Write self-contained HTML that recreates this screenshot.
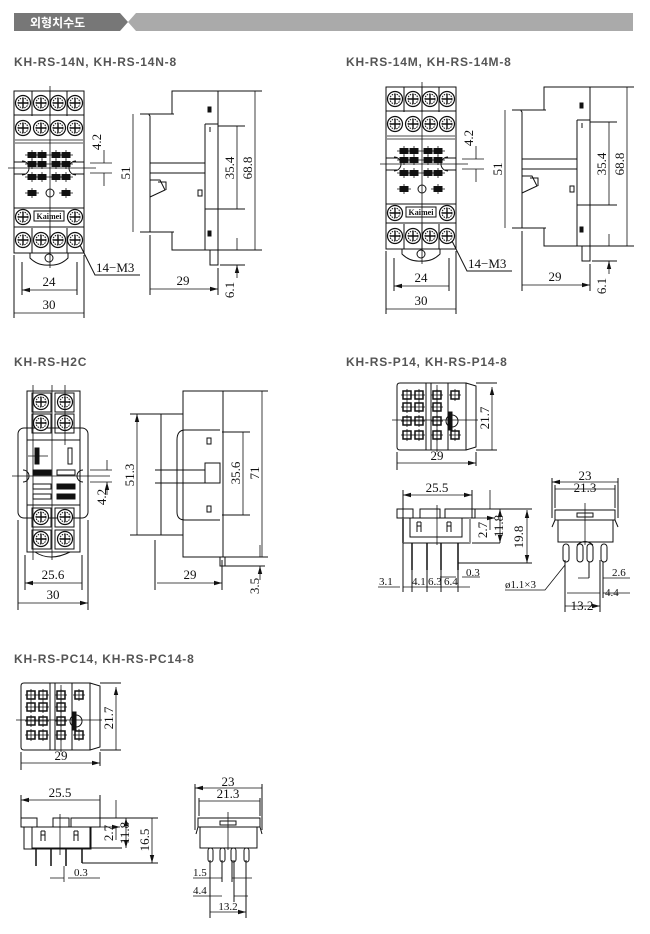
<!DOCTYPE html>
<html><head><meta charset="utf-8"><style>
html,body{margin:0;padding:0;background:#fff;}
svg{display:block;}
.t{font-family:"Liberation Sans","Noto Sans CJK KR",sans-serif;font-weight:bold;font-size:12px;letter-spacing:0.8px;fill:#555;}
.d{font-family:"Liberation Serif",serif;font-size:13px;fill:#111;}
.s{font-family:"Liberation Serif",serif;font-size:11px;fill:#111;}
</style></head><body>
<svg width="650" height="934" viewBox="0 0 650 934" xmlns="http://www.w3.org/2000/svg">
<defs>
<marker id="a" markerWidth="8" markerHeight="6" refX="8" refY="3" orient="auto-start-reverse" markerUnits="userSpaceOnUse"><path d="M0,0.8L8,3L0,5.2z" fill="#111"/></marker>
<g id="sc"><circle r="7.5" fill="#fff" stroke="#111" stroke-width="1.2"/><circle r="5" fill="none" stroke="#111" stroke-width="1" stroke-dasharray="1.5 1"/><path d="M-5,0H5M0,-5V5" stroke="#111" stroke-width="1.4"/></g>
<g id="dt"><rect x="-4" y="-2.5" width="8" height="5" fill="#111"/><path d="M-7,0H7M0,-5V5" stroke="#111" stroke-width="0.8"/></g>
<g id="pin"><rect x="-4" y="-4" width="8" height="8" fill="#fff" stroke="#111" stroke-width="1.5"/><path d="M-6,0H6M0,-6V6" stroke="#111" stroke-width="0.8"/></g>

<g id="fr" fill="none" stroke="#111" stroke-width="1">
<rect x="14" y="91" width="70" height="162"/>
<path d="M14,140H84M14,143H84" stroke="#888" stroke-width="1.5"/>
<path d="M14,115H84M14,208H84M14,227H84"/>
<path d="M32,91V116M50,91V116M67,91V116M32,228V253M50,228V253M67,228V253"/>
<use href="#sc" x="23" y="103"/><use href="#sc" x="41" y="103"/><use href="#sc" x="58" y="103"/><use href="#sc" x="75" y="103"/>
<use href="#sc" x="23" y="128"/><use href="#sc" x="41" y="128"/><use href="#sc" x="58" y="128"/><use href="#sc" x="75" y="128"/>
<use href="#sc" x="23" y="217"/><use href="#sc" x="75" y="217"/>
<use href="#sc" x="23" y="240"/><use href="#sc" x="41" y="240"/><use href="#sc" x="58" y="240"/><use href="#sc" x="75" y="240"/>
<use href="#dt" x="32" y="155"/><use href="#dt" x="42" y="155"/><use href="#dt" x="56" y="155"/><use href="#dt" x="66" y="155"/>
<use href="#dt" x="32" y="164"/><use href="#dt" x="42" y="164"/><use href="#dt" x="56" y="164"/><use href="#dt" x="66" y="164"/>
<use href="#dt" x="32" y="177"/><use href="#dt" x="42" y="177"/><use href="#dt" x="56" y="177"/><use href="#dt" x="66" y="177"/>
<use href="#dt" x="32" y="193"/><use href="#dt" x="66" y="193"/>
<circle cx="50" cy="193" r="4"/>
<path d="M22,161A7,7 0 0 1 22,175M76,161A7,7 0 0 0 76,175M14,162H26M72,162H84M14,174H26M72,174H84"/>
<rect x="34" y="211" width="30" height="10" fill="#fff" stroke="#111"/>
<text x="49" y="219" font-family="Liberation Serif" font-size="8" font-weight="bold" fill="#111" stroke="none" text-anchor="middle">Kaimei</text>
<path d="M30,253V258Q38,266 49,265Q60,266 68,258V253"/>
<circle cx="49" cy="258" r="4"/>
<path d="M50,86V268M8,168H96" stroke-width="0.8"/>
<path d="M22,262V295M77,262V295M14,255V318M84,255V318"/>
<path d="M80,245L95,275H140"/>
</g>
<g id="sd" fill="none" stroke="#111" stroke-width="1">
<path d="M172,91H218V250H172V232H150V116Q148,114 150,114H172Z"/>
<path d="M205,124H218M205,124V250M210,127V132M205,209H218"/>
<rect x="150" y="163" width="55" height="10"/>
<path d="M150,180L160,180L165,190L150,197M158,182H166V190"/>
<rect x="208" y="107" width="3" height="5" fill="#111"/>
<rect x="198" y="190" width="4" height="6"/>
<rect x="208" y="231" width="3" height="5" fill="#111"/>
<rect x="210" y="250" width="8" height="15"/>
<path d="M150,235V295M218,268V295M174,114H140M174,232H140M218,126H245M218,209H245M218,91H262M218,250H262M220,265H245"/>
</g>
</defs>

<path d="M14,13H120L128,22L120,31H14Z" fill="#777"/>
<path d="M136,13H633V31H136L128,22Z" fill="#aaa"/>
<text x="30" y="27" font-family="Liberation Sans,'Noto Sans CJK KR',sans-serif" font-size="12" font-weight="bold" fill="#fff">외형치수도</text>

<text class="t" x="14" y="66">KH-RS-14N, KH-RS-14N-8</text>
<text class="t" x="346" y="66">KH-RS-14M, KH-RS-14M-8</text>
<text class="t" x="14" y="366">KH-RS-H2C</text>
<text class="t" x="346" y="366">KH-RS-P14, KH-RS-P14-8</text>
<text class="t" x="14" y="663">KH-RS-PC14, KH-RS-PC14-8</text>

<use href="#fr"/><use href="#sd"/>
<g id="dim1" stroke="#111" stroke-width="0.8" fill="none">
<path d="M22,290H77M14,313H84M133,114V232M237,126V209M255,91V250M150,289H218" marker-start="url(#a)" marker-end="url(#a)"/>
<path d="M104,150V163M104,186V173M237,238V250M237,278V265" marker-end="url(#a)"/>
<path d="M90,163H112M90,173H112"/>
</g>
<g id="txt1">
<text class="d" x="49" y="286" text-anchor="middle">24</text>
<text class="d" x="49" y="309" text-anchor="middle">30</text>
<text class="d" x="96" y="272">14−M3</text>
<text class="d" x="183" y="285" text-anchor="middle">29</text>
<text class="d" transform="translate(101,142) rotate(-90)" text-anchor="middle">4.2</text>
<text class="d" transform="translate(130,173) rotate(-90)" text-anchor="middle">51</text>
<text class="d" transform="translate(234,168) rotate(-90)" text-anchor="middle">35.4</text>
<text class="d" transform="translate(252,168) rotate(-90)" text-anchor="middle">68.8</text>
<text class="d" transform="translate(234,290) rotate(-90)" text-anchor="middle">6.1</text>
</g>
<g transform="translate(372,-4)"><use href="#fr"/><use href="#sd"/><use href="#dim1"/><use href="#txt1"/></g>

<g fill="none" stroke="#111" stroke-width="1">
<rect x="27" y="391" width="53" height="161"/>
<rect x="18" y="428" width="70" height="90" rx="6"/>
<rect x="32" y="393" width="19" height="19"/><rect x="55" y="393" width="19" height="19"/>
<rect x="32" y="414" width="19" height="19"/><rect x="55" y="414" width="19" height="19"/>
<rect x="32" y="508" width="19" height="19"/><rect x="55" y="508" width="19" height="19"/>
<rect x="32" y="530" width="19" height="19"/><rect x="55" y="530" width="19" height="19"/>
<use href="#sc" x="41" y="402"/><use href="#sc" x="65" y="402"/>
<use href="#sc" x="41" y="423"/><use href="#sc" x="65" y="423"/>
<use href="#sc" x="41" y="517"/><use href="#sc" x="65" y="517"/>
<use href="#sc" x="41" y="539"/><use href="#sc" x="65" y="539"/>
<path d="M27,440H80M27,505H80"/>
<rect x="35" y="448" width="4" height="16" fill="#111"/><rect x="68" y="448" width="4" height="16"/>
<rect x="33" y="470" width="18" height="5" fill="#111"/><rect x="57" y="470" width="18" height="5"/>
<rect x="33" y="484" width="18" height="5"/><rect x="57" y="484" width="18" height="5" fill="#111"/>
<rect x="33" y="494" width="18" height="5"/><rect x="57" y="494" width="18" height="5" fill="#111"/>
<path d="M23,470A6,6 0 0 1 23,482M83,470A6,6 0 0 0 83,482"/>
<path d="M33,385V560M52,385V560M65,385V445M12,476H110M28,456H48" stroke-width="0.8"/>
<path d="M35,552Q50,562 70,552"/>
<path d="M25,555V590M82,555V590M18,520V610M88,520V610"/>
<path d="M25,583H82M18,603H88" marker-start="url(#a)" marker-end="url(#a)" stroke-width="0.8"/>
<path d="M107,460V470M107,495V482" marker-end="url(#a)" stroke-width="0.8"/>
<path d="M90,470H112M90,482H112" stroke-width="0.8"/>
</g>
<text class="d" x="53" y="579" text-anchor="middle">25.6</text>
<text class="d" x="53" y="599" text-anchor="middle">30</text>
<text class="d" transform="translate(106,497) rotate(-90)" text-anchor="middle">4.2</text>
<g fill="none" stroke="#111" stroke-width="1">
<path d="M183,391H223V557H183V535H161V414H183Z"/>
<path d="M183,391V557M161,414V535"/>
<path d="M220,430H185Q177,430 177,440V512Q177,520 185,520H220"/>
<path d="M155,470H205M155,483H205"/>
<rect x="205" y="463" width="15" height="20"/>
<rect x="207" y="438" width="4" height="6"/><rect x="207" y="506" width="4" height="6"/>
<rect x="220" y="557" width="5" height="9"/>
<path d="M155,540V590M222,560V590M183,414H130M183,535H130M222,432H250M222,515H250M222,391H268M222,557H268M225,566H265"/>
<path d="M137,414V535M243,432V515M262,391V557M157,583H222" marker-start="url(#a)" marker-end="url(#a)" stroke-width="0.8"/>
<path d="M260,545V557M260,580V566" marker-end="url(#a)" stroke-width="0.8"/>
</g>
<text class="d" x="190" y="579" text-anchor="middle">29</text>
<text class="d" transform="translate(134,475) rotate(-90)" text-anchor="middle">51.3</text>
<text class="d" transform="translate(240,473) rotate(-90)" text-anchor="middle">35.6</text>
<text class="d" transform="translate(259,473) rotate(-90)" text-anchor="middle">71</text>
<text class="d" transform="translate(259,586) rotate(-90)" text-anchor="middle">3.5</text>

<g id="tv" fill="none" stroke="#111" stroke-width="1">
<path d="M397,386Q397,383 400,383H466V450H400Q397,450 397,447Z"/>
<path d="M466,383L476,386V447L466,450"/>
<path d="M426,383V450M448,383V450M431,383V450"/>
<use href="#pin" x="407" y="395"/><use href="#pin" x="419" y="395"/><use href="#pin" x="437" y="395"/><use href="#pin" x="455" y="395"/>
<use href="#pin" x="407" y="407"/><use href="#pin" x="419" y="407"/><use href="#pin" x="437" y="407"/>
<use href="#pin" x="407" y="421"/><use href="#pin" x="419" y="421"/><use href="#pin" x="437" y="421"/>
<use href="#pin" x="407" y="435"/><use href="#pin" x="419" y="435"/><use href="#pin" x="437" y="435"/><use href="#pin" x="455" y="435"/>
<circle cx="452" cy="421" r="6"/><rect x="449" y="412" width="3" height="18" fill="#111"/>
<path d="M392,420H478M437,385V452" stroke-width="0.8"/>
<path d="M397,452V470M476,452V466M476,383H497M476,450H497"/>
<path d="M492,387V450M397,463H476" marker-start="url(#a)" marker-end="url(#a)" stroke-width="0.8"/>
</g>
<text class="d" x="437" y="460" text-anchor="middle">29</text>
<text class="d" transform="translate(489,418) rotate(-90)" text-anchor="middle">21.7</text>

<g fill="none" stroke="#111" stroke-width="1">
<path d="M397,509H413V518H397ZM420,509H440V518H420ZM445,509H475V518H445Z"/>
<rect x="403" y="518" width="67" height="25"/>
<path d="M403,518V543M470,518V543" stroke="#999" stroke-width="2"/>
<path d="M410,518V537H462V518"/>
<path d="M417,522V532M421,522V532M417,522H421M417,526H421M447,522V532M451,522V532M447,522H451M447,526H451"/>
<path d="M412,543V570M427,543V570M441,543V570M458,543V570" stroke-width="1.5"/>
<path d="M437,505V545" stroke-width="0.8"/>
<path d="M403,490V592M472,490V518M412,570V592M427,570V592M441,570V592M458,570V592M458,563H532M475,509H532M472,543H500"/>
<path d="M403,495H472" marker-start="url(#a)" marker-end="url(#a)" stroke-width="0.8"/>
<path d="M527,510V563" marker-start="url(#a)" marker-end="url(#a)" stroke-width="0.8"/>
<path d="M490,490V509M490,530V518M475,518H495" marker-end="url(#a)" stroke-width="0.8"/>
<path d="M500,509V543" marker-start="url(#a)" marker-end="url(#a)" stroke-width="0.8"/>
<path d="M378,587H400M403,587H412M412,587H427M427,587H441M441,587H458M458,587H470" stroke-width="0.8"/>
<path d="M440,577H456M480,577H462" stroke-width="0.8"/>
</g>
<text class="d" x="437" y="492" text-anchor="middle">25.5</text>
<text class="d" transform="translate(487,530) rotate(-90)" text-anchor="middle">2.7</text>
<text class="d" transform="translate(503,526) rotate(-90)" text-anchor="middle">11.8</text>
<text class="d" transform="translate(523,537) rotate(-90)" text-anchor="middle">19.8</text>
<text class="s" x="379" y="585">3.1</text>
<text class="s" x="412" y="585">4.1</text><text class="s" x="428" y="585">6.3</text><text class="s" x="444" y="585">6.4</text>
<text class="s" x="466" y="576">0.3</text>

<g fill="none" stroke="#111" stroke-width="1">
<rect x="555" y="510" width="60" height="10"/>
<rect x="558" y="520" width="55" height="22"/>
<path d="M555,520L552,527M615,520L618,527"/>
<rect x="577" y="513" width="16" height="4"/>
<path d="M585,503V545" stroke-width="0.8"/>
<path d="M577,545Q585,538 593,545"/>
<rect x="563" y="544" width="6" height="18" rx="3"/><rect x="577" y="544" width="6" height="18" rx="3"/><rect x="587" y="544" width="6" height="18" rx="3"/><rect x="601" y="544" width="6" height="18" rx="3"/>
<path d="M552,478V518M618,478V518M555,485V508M615,485V508M565,560V612M600,560V612M603,562V598M589,562V578"/>
<path d="M552,482H618M555,489H615M565,606H600" marker-start="url(#a)" marker-end="url(#a)" stroke-width="0.8"/>
<path d="M578,578H589M612,578H603M630,578H612M567,593H600M630,593H603" stroke-width="0.8"/>
<path d="M565,565L545,590H505" stroke-width="0.8"/>
</g>
<text class="d" x="585" y="480" text-anchor="middle">23</text>
<text class="d" x="585" y="492" text-anchor="middle">21.3</text>
<text class="s" x="612" y="576">2.6</text>
<text class="s" x="605" y="596">4.4</text>
<text class="d" x="582" y="610" text-anchor="middle">13.2</text>
<text class="s" x="505" y="588">ø1.1×3</text>

<g transform="translate(-376,300)"><use href="#tv"/></g>
<text class="d" x="61" y="760" text-anchor="middle">29</text>
<text class="d" transform="translate(113,718) rotate(-90)" text-anchor="middle">21.7</text>

<g fill="none" stroke="#111" stroke-width="1">
<path d="M21,818H37V827H21ZM53,818H69V827H53ZM71,818H100V827H71Z"/>
<path d="M24,827V849H91V827"/>
<rect x="32" y="827" width="58" height="21"/>
<path d="M41,831V841M45,831V841M41,831H45M41,835H45M74,831V841M78,831V841M74,831H78M74,835H78"/>
<path d="M36,849V866M51,849V866M66,849V866M82,849V863" stroke-width="1.5"/>
<path d="M60,814V855" stroke-width="0.8"/>
<path d="M21,795V820M100,795V820M82,863H158M100,818H158M90,848H122"/>
<path d="M21,800H100M152,818V863" marker-start="url(#a)" marker-end="url(#a)" stroke-width="0.8"/>
<path d="M116,800V818M116,840V827M100,827H120" marker-end="url(#a)" stroke-width="0.8"/>
<path d="M126,818V848" marker-start="url(#a)" marker-end="url(#a)" stroke-width="0.8"/>
<path d="M50,878H64M100,878H68" stroke-width="0.8"/>
<path d="M64,866V882" stroke-width="0.8"/>
</g>
<text class="d" x="60" y="797" text-anchor="middle">25.5</text>
<text class="d" transform="translate(113,833) rotate(-90)" text-anchor="middle">2.7</text>
<text class="d" transform="translate(129,833) rotate(-90)" text-anchor="middle">11.8</text>
<text class="d" transform="translate(149,840) rotate(-90)" text-anchor="middle">16.5</text>
<text class="s" x="74" y="876">0.3</text>

<g fill="none" stroke="#111" stroke-width="1">
<rect x="198" y="818" width="62" height="9"/>
<rect x="200" y="827" width="57" height="21"/>
<path d="M198,827L196,834M260,827L262,834"/>
<rect x="220" y="821" width="16" height="4"/>
<path d="M228,812V850" stroke-width="0.8"/>
<rect x="208" y="848" width="5" height="14" rx="2.5"/><rect x="220" y="848" width="5" height="14" rx="2.5"/><rect x="231" y="848" width="5" height="14" rx="2.5"/><rect x="244" y="848" width="5" height="14" rx="2.5"/>
<path d="M195,784V830M262,784V830M199,798V816M260,798V816M210,860V918M246,860V918M222,860V882M234,860V902M232,860V882"/>
<path d="M195,788H262M199,801H260M210,912H246" marker-start="url(#a)" marker-end="url(#a)" stroke-width="0.8"/>
<path d="M193,878H222M232,878H252M193,896H222M234,896H248" stroke-width="0.8"/>
</g>
<text class="d" x="228" y="786" text-anchor="middle">23</text>
<text class="d" x="228" y="798" text-anchor="middle">21.3</text>
<text class="s" x="193" y="876">1.5</text>
<text class="s" x="193" y="894">4.4</text>
<text class="s" x="228" y="910" text-anchor="middle">13.2</text>
</svg>
</body></html>
